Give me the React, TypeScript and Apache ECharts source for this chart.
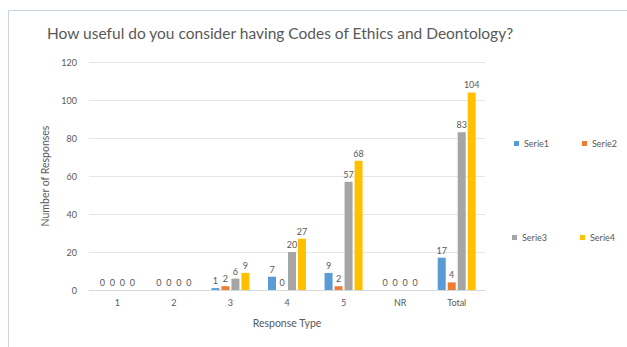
import React, { useEffect, useRef } from "react";
import * as echarts from "echarts";

const categories = ["1", "2", "3", "4", "5", "NR", "Total"];
const serie1 = [0, 0, 1, 7, 9, 0, 17];
const serie2 = [0, 0, 2, 0, 2, 0, 4];
const serie3 = [0, 0, 6, 20, 57, 0, 83];
const serie4 = [0, 0, 9, 27, 68, 0, 104];
const seriesNames = ["Serie1", "Serie2", "Serie3", "Serie4"];
const colors = ["#5B9BD5", "#ED7D31", "#A5A5A5", "#FFC000"];

const FONT = "Lato";

export default function App() {
  const ref = useRef<HTMLDivElement>(null);
  useEffect(() => {
    if (!ref.current) return;
    const chart = echarts.init(ref.current, undefined, { renderer: "svg" });
    const data = [serie1, serie2, serie3, serie4];
    const legendText = { fontFamily: FONT, fontSize: 9, color: "#595959" };
    chart.setOption({
      animation: false,
      backgroundColor: "#ffffff",
      textStyle: { fontFamily: FONT },
      title: {
        text: "How useful do you consider having Codes of Ethics and Deontology?",
        left: 42,
        top: 20,
        textStyle: { fontFamily: FONT, fontSize: 15.5, fontWeight: "normal", color: "#595959" },
      },
      graphic: [
        {
          type: "rect",
          shape: { x: 8.5, y: 10.5, width: 640, height: 350 },
          style: { fill: "none", stroke: "#c5d3e2", lineWidth: 1 },
          silent: true,
        },
      ],
      legend: [
        {
          data: ["Serie1", "Serie2"],
          left: 514,
          top: 139,
          padding: 0,
          itemWidth: 5,
          itemHeight: 5,
          itemGap: 33,
          icon: "rect",
          textStyle: legendText,
        },
        {
          data: ["Serie3", "Serie4"],
          left: 512,
          top: 233,
          padding: 0,
          itemWidth: 5,
          itemHeight: 5,
          itemGap: 33,
          icon: "rect",
          textStyle: legendText,
        },
      ],
      grid: { left: 89, right: 142, top: 62, bottom: 57, containLabel: false },
      xAxis: {
        type: "category",
        data: categories,
        name: "Response Type",
        nameLocation: "middle",
        nameGap: 27,
        nameTextStyle: { fontFamily: FONT, fontSize: 10.5, color: "#595959" },
        axisLine: { lineStyle: { color: "#d9d9d9" } },
        axisTick: { show: false },
        axisLabel: { fontFamily: FONT, fontSize: 9, color: "#595959", margin: 8 },
      },
      yAxis: {
        type: "value",
        min: 0,
        max: 120,
        interval: 20,
        name: "Number of Responses",
        nameLocation: "middle",
        nameGap: 29,
        nameTextStyle: { fontFamily: FONT, fontSize: 10.5, color: "#595959" },
        axisLine: { show: false },
        axisTick: { show: false },
        axisLabel: { fontFamily: FONT, fontSize: 9, color: "#595959", margin: 12 },
        splitLine: { lineStyle: { color: "#e6e6e6" } },
      },
      series: seriesNames.map((name, i) => ({
        name,
        type: "bar",
        data: data[i],
        barWidth: 8,
        barGap: "25%",
        itemStyle: { color: colors[i] },
        label: {
          show: true,
          position: "top",
          distance: 3,
          fontFamily: FONT,
          fontSize: 9,
          color: "#595959",
        },
      })),
    });
    return () => chart.dispose();
  }, []);
  return (
    <div
      ref={ref}
      style={{ position: "absolute", left: 0, top: 0, width: 627, height: 347 }}
    />
  );
}
